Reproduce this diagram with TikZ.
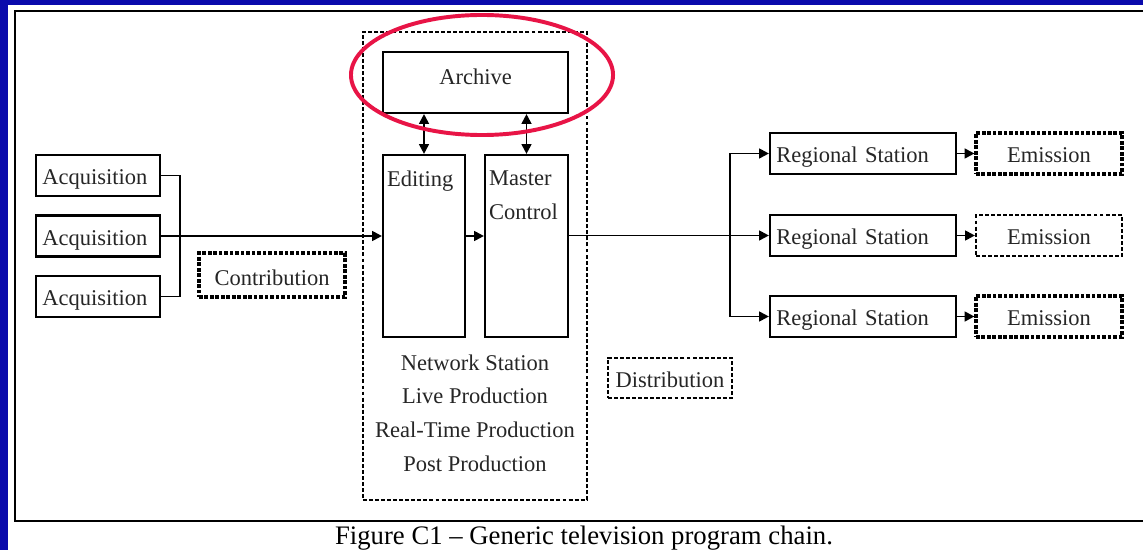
\documentclass[tikz,border=0pt]{standalone}
\usepackage{fontspec}
\setmainfont{Liberation Serif}
\usepackage{xcolor}
\usepackage{tikz}
\usetikzlibrary{positioning,calc,arrows.meta}

\definecolor{slideblue}{RGB}{10,10,172}
\definecolor{markred}{RGB}{232,20,70}

\begin{document}
\begin{tikzpicture}[x=0.025cm, y=-0.025cm,
  box/.style={draw, line width=1.5pt, inner sep=0pt, text height=13pt, text depth=0pt, text=black!85, font=\fontsize{16}{24}\selectfont},
  leftbox/.style={box, inner xsep=4.5pt, align=left},
  dbox/.style={box, line width=2.2pt, dash pattern=on 2.6pt off 1.3pt},
  thindbox/.style={box, line width=1.5pt, dash pattern=on 2.8pt off 1.5pt},
  txt/.style={inner sep=0pt, text=black!85, font=\fontsize{16}{24}\selectfont},
  link/.style={line width=1.4pt},
  tip/.style={link, -{Triangle[length=7pt,width=7pt]}},
  dtip/.style={link, {Triangle[length=7pt,width=7pt]}-{Triangle[length=7pt,width=7pt]}}]
  \useasboundingbox (0,0) rectangle (1143,550);

  % Slide background and frame
  \fill[slideblue] (0,0) rectangle (1143,550);
  \fill[white] (8,5) rectangle (1143,550);
  \draw[line width=1.8pt] (1143,11) -- (15,11) -- (15,521) -- (1143,521);

  % Acquisition
  \node[leftbox, minimum width=3.1cm, minimum height=1.025cm, text width=3.1cm-9pt] (acq1) at (98,175.5) {Acquisition};
  \node[leftbox, minimum width=3.1cm, minimum height=1.025cm, text width=3.1cm-9pt] (acq2) at (98,236) {Acquisition};
  \node[leftbox, minimum width=3.1cm, minimum height=1.025cm, text width=3.1cm-9pt] (acq3) at (98,296.5) {Acquisition};
  \node[dbox, text height=15pt, minimum width=3.65cm, minimum height=1.1cm] (contrib) at (272,275) {Contribution};

  % Network station
  \node[thindbox, line width=1.7pt, minimum width=5.6cm, minimum height=11.7cm] (netbox) at (475,266) {};
  \node[box, minimum width=4.625cm, minimum height=1.525cm] (archive) at (475.5,82.5) {};
  \node[txt] (archtxt) at ([yshift=4pt]archive.center) {Archive};
  \node[box, minimum width=2.05cm, minimum height=4.55cm] (edit) at (424,246) {};
  \node[txt, anchor=north west] (edittxt) at ([xshift=3.5pt,yshift=-12pt]edit.north west) {Editing};
  \node[box, minimum width=2.075cm, minimum height=4.55cm] (master) at (526.5,246) {};
  \node[txt, anchor=north west, align=left] (mastertxt) at ([xshift=3.5pt,yshift=-12pt]master.north west) {Master\\Control};
  \node[txt, align=center] (roles) at (475,413) {Network Station\\Live Production\\Real-Time Production\\Post Production};

  % Distribution
  \node[thindbox, minimum width=3.1cm, minimum height=1.0cm] (distrib) at (670,378) {Distribution};
  \node[leftbox, minimum width=4.65cm, minimum height=1.025cm, text width=4.65cm-9pt] (reg1) at (863,153.5) {Regional Station};
  \node[leftbox, minimum width=4.65cm, minimum height=1.025cm, text width=4.65cm-9pt] (reg2) at (863,235.5) {Regional Station};
  \node[leftbox, minimum width=4.65cm, minimum height=1.025cm, text width=4.65cm-9pt] (reg3) at (863,316.5) {Regional Station};
  \node[dbox, minimum width=3.65cm, minimum height=1.025cm] (emit1) at (1049,153.5) {Emission};
  \node[thindbox, minimum width=3.65cm, minimum height=1.025cm] (emit2) at (1049,235.5) {Emission};
  \node[dbox, minimum width=3.65cm, minimum height=1.025cm] (emit3) at (1049,316.5) {Emission};

  % Connections
  \draw[link] (acq1.east) -- ++(19,0) |- (acq3.east);
  \draw[tip] (acq2.east) -- (acq2.east -| edit.west);
  \draw[tip] (edit.east |- acq2.east) -- (master.west |- acq2.east);
  \draw[dtip] (edit.north) -- (edit.north |- archive.south);
  \draw[dtip] (master.north) -- (master.north |- archive.south);
  \coordinate (split) at (730,235.5);
  \draw[link] (master.east |- split) -- (split);
  \draw[tip] (split) |- (reg1.west);
  \draw[tip] (split) -- (reg2.west);
  \draw[tip] (split) |- (reg3.west);
  \foreach \i in {1,2,3}
    \draw[tip] (reg\i.east) -- (emit\i.west);

  % Highlight
  \draw[markred, line width=2.8pt] (482,75) ellipse [x radius=3.275cm, y radius=1.5cm];

  % Caption
  \node[anchor=base, inner sep=0pt, font=\fontsize{19}{23}\selectfont] (caption) at (584,544) {Figure C1 \textendash{} Generic television program chain.};
\end{tikzpicture}
\end{document}
